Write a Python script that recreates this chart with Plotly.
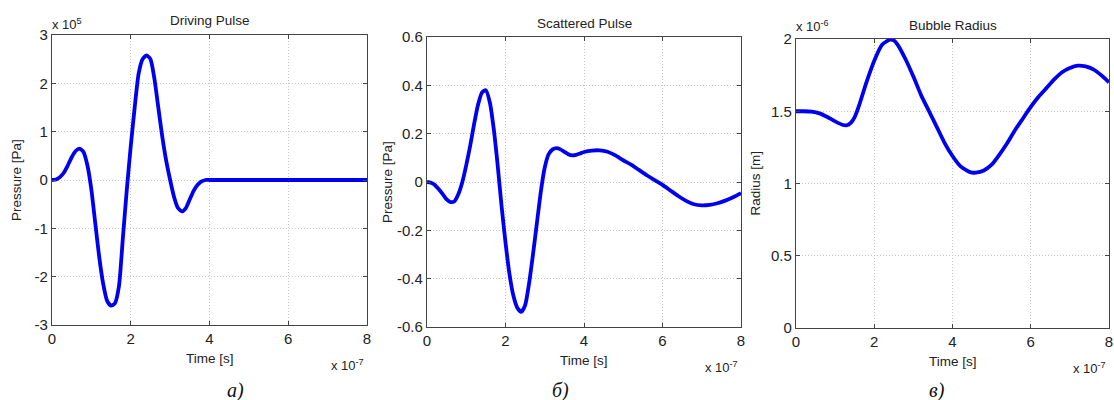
import plotly.graph_objects as go

# ---- data (time in units of 1e-7 s) ----
t_drive = [0, 0.1, 0.2, 0.3, 0.4, 0.5, 0.6, 0.7, 0.8, 0.9, 1.0, 1.1, 1.2, 1.3, 1.4, 1.5, 1.6, 1.7,
           1.8, 1.9, 2.0, 2.1, 2.2, 2.3, 2.4, 2.5, 2.6, 2.7, 2.8, 2.9, 3.0, 3.1, 3.2, 3.3, 3.4, 3.5,
           3.6, 3.7, 3.8, 3.9, 4.0, 5.0, 6.0, 7.0, 8.0]
p_drive = [0, 0.01, 0.06, 0.15, 0.3, 0.47, 0.6, 0.65, 0.58, 0.3, -0.2, -0.9, -1.6, -2.15, -2.5, -2.6,
           -2.55, -2.2, -1.2, -0.2, 0.7, 1.5, 2.2, 2.5, 2.58, 2.5, 2.1, 1.5, 0.9, 0.4, 0.0, -0.35,
           -0.58, -0.65, -0.58, -0.4, -0.22, -0.1, -0.03, 0, 0, 0, 0, 0, 0]  # x 1e5 Pa

t_scat = [0, 0.1, 0.2, 0.3, 0.4, 0.5, 0.6, 0.7, 0.8, 0.9, 1.0, 1.1, 1.2, 1.3, 1.4, 1.5, 1.6, 1.7,
          1.8, 1.9, 2.0, 2.1, 2.2, 2.3, 2.4, 2.5, 2.6, 2.7, 2.8, 2.9, 3.0, 3.1, 3.2, 3.3, 3.4, 3.5,
          3.6, 3.7, 3.8, 3.9, 4.0, 4.2, 4.4, 4.6, 4.8, 5.0, 5.2, 5.4, 5.6, 5.8, 6.0, 6.2, 6.4,
          6.6, 6.8, 7.0, 7.2, 7.4, 7.6, 7.8, 8.0]
p_scat = [0, -0.003, -0.012, -0.03, -0.05, -0.072, -0.083, -0.08, -0.05, 0.0, 0.07, 0.15, 0.24,
          0.32, 0.37, 0.38, 0.33, 0.22, 0.07, -0.1, -0.25, -0.38, -0.47, -0.52, -0.537, -0.51,
          -0.42, -0.3, -0.17, -0.04, 0.06, 0.115, 0.135, 0.14, 0.135, 0.125, 0.115, 0.11, 0.112,
          0.118, 0.124, 0.13, 0.131, 0.125, 0.11, 0.09, 0.072, 0.05, 0.028, 0.008, -0.012,
          -0.035, -0.058, -0.078, -0.092, -0.097, -0.095, -0.088, -0.077, -0.063, -0.046]

t_rad = [0, 0.2, 0.4, 0.6, 0.8, 1.0, 1.2, 1.3, 1.4, 1.5, 1.6, 1.8, 2.0, 2.2, 2.4, 2.5, 2.6, 2.8,
         3.0, 3.2, 3.4, 3.6, 3.8, 4.0, 4.2, 4.4, 4.5, 4.6, 4.8, 5.0, 5.2, 5.4, 5.6, 5.8, 6.0,
         6.2, 6.4, 6.6, 6.8, 7.0, 7.2, 7.4, 7.6, 7.8, 8.0]
r_rad = [1.5, 1.5, 1.497, 1.485, 1.46, 1.43, 1.405, 1.403, 1.42, 1.46, 1.53, 1.7, 1.85, 1.96,
         1.995, 1.99, 1.96, 1.86, 1.74, 1.61, 1.5, 1.39, 1.28, 1.19, 1.12, 1.085, 1.076, 1.075,
         1.09, 1.13, 1.2, 1.28, 1.37, 1.45, 1.53, 1.6, 1.66, 1.72, 1.77, 1.80, 1.815, 1.81,
         1.79, 1.75, 1.70]  # x 1e-6 m

x_ticks = [0, 2, 4, 6, 8]
y1_ticks = [-3, -2, -1, 0, 1, 2, 3]
y2_ticks = [-0.6, -0.4, -0.2, 0, 0.2, 0.4, 0.6]
y3_ticks = [0, 0.5, 1, 1.5, 2]
y3_labels = ["0", "0.5", "1", "1.5", "2"]

titles = ["Driving Pulse", "Scattered Pulse", "Bubble Radius"]
ylabels = ["Pressure [Pa]", "Pressure [Pa]", "Radius [m]"]
sublabels = ["а)", "б)", "в)"]

W, H = 1114, 400
FONT = "Liberation Sans, Arial, sans-serif"
BLUE = "#0000f0"
TXT = "#222"

# panel boxes in pixels: (left, right, top, bottom)
boxes = [(52, 367, 35, 325), (427, 741, 37, 327), (796, 1109, 39, 328)]

fig = go.Figure()
series = [(t_drive, p_drive), (t_scat, p_scat), (t_rad, r_rad)]
for i, (tx, ty) in enumerate(series):
    sfx = "" if i == 0 else str(i + 1)
    fig.add_trace(go.Scatter(x=tx, y=ty, mode="lines",
                             line=dict(color=BLUE, width=3.8, shape="spline", smoothing=0.6),
                             xaxis="x" + sfx, yaxis="y" + sfx, showlegend=False))

axis_common = dict(showline=True, mirror="ticks", linecolor="#444", linewidth=1.2,
                   ticks="inside", ticklen=4, tickcolor="#444", automargin=False,
                   showgrid=True, gridcolor="#c4c4c4", griddash="1px,2px", gridwidth=1,
                   zeroline=False, tickfont=dict(family=FONT, size=15, color=TXT))

yranges = [[-3, 3], [-0.6, 0.6], [0, 2]]
yticks = [(y1_ticks, [str(v) for v in y1_ticks]),
          (y2_ticks, ["-0.6", "-0.4", "-0.2", "0", "0.2", "0.4", "0.6"]),
          (y3_ticks, y3_labels)]

layout = dict(width=W, height=H, margin=dict(l=0, r=0, t=0, b=0, autoexpand=False),
              paper_bgcolor="white", plot_bgcolor="white", showlegend=False)
annotations = []
for i, (l, r, t, b) in enumerate(boxes):
    sfx = "" if i == 0 else str(i + 1)
    xd = [l / W, r / W]
    yd = [1 - b / H, 1 - t / H]
    layout["xaxis" + sfx] = dict(axis_common, domain=xd, range=[0, 8], tickvals=x_ticks,
                                  ticktext=[str(v) for v in x_ticks], anchor="y" + sfx)
    layout["yaxis" + sfx] = dict(axis_common, domain=yd, range=yranges[i],
                                  tickvals=yticks[i][0], ticktext=yticks[i][1], anchor="x" + sfx)
    cx = (l + r) / 2
    annotations.append(dict(text=titles[i], x=cx / W, y=1 - (t - 14) / H, xref="paper", yref="paper",
                            showarrow=False, font=dict(family=FONT, size=13.5, color=TXT),
                            xanchor="center", yanchor="middle"))
    annotations.append(dict(text="Time [s]", x=cx / W, y=1 - (b + 33) / H, xref="paper", yref="paper",
                            showarrow=False, font=dict(family=FONT, size=13.5, color=TXT),
                            xanchor="center", yanchor="middle"))
    annotations.append(dict(text="x 10<sup>-7</sup>", x=(r - 1) / W, y=1 - (b + 40) / H, xref="paper",
                            yref="paper", showarrow=False,
                            font=dict(family=FONT, size=13, color=TXT),
                            xanchor="right", yanchor="middle"))
    annotations.append(dict(text="<i>" + sublabels[i] + "</i>", x=[235, 560, 937][i] / W,
                            y=1 - 390 / H, xref="paper", yref="paper", showarrow=False,
                            font=dict(family="Liberation Serif, Times New Roman, serif", size=20,
                                      color="#111"),
                            xanchor="center", yanchor="middle"))

ylab_x = [17, 387, 755]
for i, (l, r, t, b) in enumerate(boxes):
    annotations.append(dict(text=ylabels[i], x=ylab_x[i] / W, y=1 - ((t + b) / 2) / H, xref="paper",
                            yref="paper", showarrow=False, textangle=-90,
                            font=dict(family=FONT, size=13.5, color=TXT),
                            xanchor="center", yanchor="middle"))

annotations.append(dict(text="x 10<sup>5</sup>", x=50 / W, y=1 - 24 / H, xref="paper", yref="paper",
                        showarrow=False, font=dict(family=FONT, size=13, color=TXT),
                        xanchor="left", yanchor="middle"))
annotations.append(dict(text="x 10<sup>-6</sup>", x=794 / W, y=1 - 26 / H, xref="paper", yref="paper",
                        showarrow=False, font=dict(family=FONT, size=13, color=TXT),
                        xanchor="left", yanchor="middle"))

layout["annotations"] = annotations
fig.update_layout(**layout)
fig.write_html("out.html", config={"displayModeBar": False},
               post_script="document.body.style.margin='0';document.body.style.overflow='hidden';")
